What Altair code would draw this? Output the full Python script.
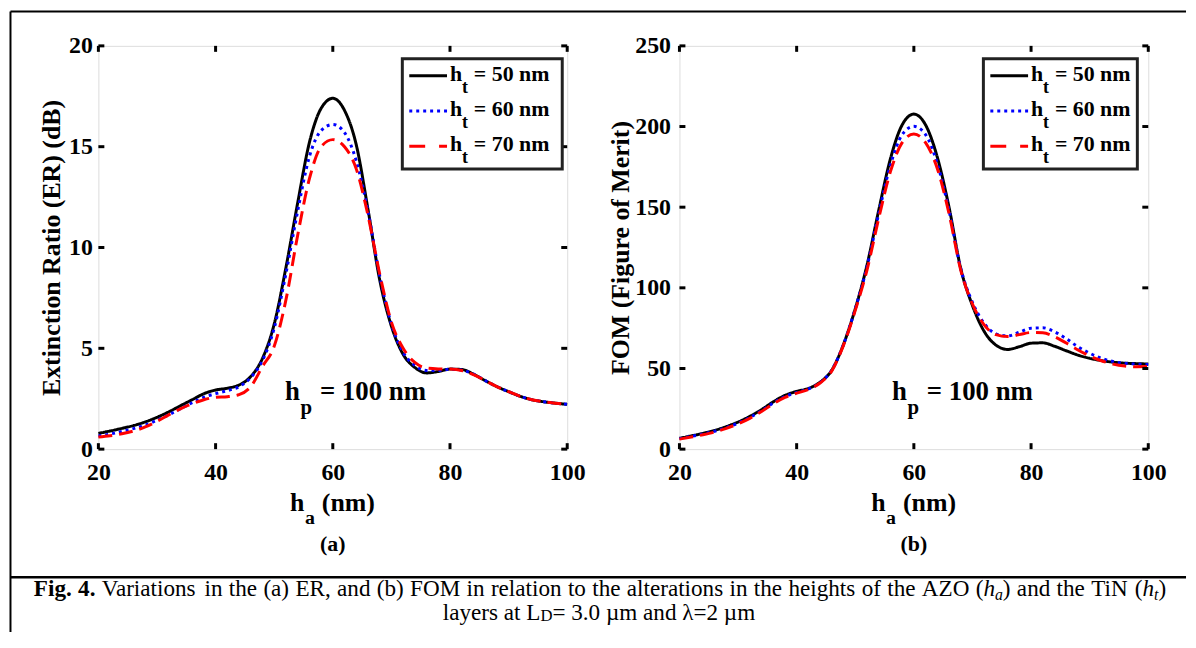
import altair as alt
import pandas as pd

# ---------------- data ----------------
ha = [20, 22, 24, 26, 28, 30, 32, 34, 36, 38, 40, 42, 44, 46, 48, 50, 52, 54, 56, 58, 60,
      62, 64, 66, 68, 70, 72, 74, 76, 78, 80, 82, 84, 86, 88, 90, 92, 94, 96, 98, 100]

er_50 = [0.78, 0.90, 1.03, 1.17, 1.35, 1.58, 1.85, 2.15, 2.45, 2.75, 2.93, 3.02, 3.18, 3.6, 4.5,
         6.2, 9.0, 12.2, 15.2, 16.9, 17.4, 16.8, 15.1, 11.9, 8.4, 6.1, 4.7, 4.05, 3.78, 3.85,
         3.97, 3.95, 3.72, 3.4, 3.1, 2.85, 2.62, 2.45, 2.35, 2.28, 2.22]
er_60 = [0.65, 0.75, 0.88, 1.02, 1.2, 1.43, 1.7, 2.0, 2.3, 2.57, 2.75, 2.9, 3.1, 3.55, 4.4,
         6.0, 8.7, 11.8, 14.5, 15.8, 16.1, 15.7, 14.3, 11.8, 8.6, 6.2, 4.8, 4.15, 3.9, 3.9,
         3.96, 3.92, 3.72, 3.4, 3.1, 2.85, 2.62, 2.45, 2.35, 2.28, 2.22]
er_70 = [0.6, 0.66, 0.76, 0.9, 1.1, 1.38, 1.7, 2.0, 2.25, 2.45, 2.57, 2.6, 2.7, 3.1, 4.1,
         5.1, 7.4, 10.6, 13.4, 15.0, 15.35, 15.0, 13.9, 11.6, 8.7, 6.3, 5.0, 4.3, 4.02, 3.98,
         3.97, 3.9, 3.7, 3.4, 3.1, 2.85, 2.62, 2.45, 2.35, 2.28, 2.22]

fom_50 = [6.7, 8.2, 9.8, 11.6, 14.0, 16.8, 20.3, 24.5, 29.3, 33.3, 35.8, 37.6, 41.5, 49, 65,
          87, 114, 148, 180, 201, 207.7, 201, 181, 150, 112, 89, 73, 64.5, 61.8, 63.5,
          65.7, 65.9, 63.8, 61, 58.3, 56.3, 54.9, 53.9, 53.3, 53, 52.8]
fom_60 = [6.5, 7.9, 9.4, 11.1, 13.4, 16.1, 19.6, 23.8, 28.6, 32.6, 35.1, 37.3, 41.3, 49, 65,
          87, 113, 146, 176, 195, 200.1, 195, 177, 148, 112, 91, 78, 71.5, 70.2, 72.5,
          75, 75.2, 72.8, 68.5, 63.5, 59.5, 56.3, 54.3, 53.2, 52.7, 52.5]
fom_70 = [6.2, 7.5, 8.9, 10.6, 12.9, 15.7, 19.1, 23.3, 28.1, 32.1, 34.7, 37, 41, 48.5, 64.5,
          86, 111, 143, 172, 190, 195.4, 190, 174, 146, 111, 90, 77, 71, 69.8, 71,
          72.3, 72.1, 69.7, 65.8, 61.5, 57.8, 54.8, 52.7, 51.5, 51.1, 51.2]

series = ["ht50", "ht60", "ht70"]
legend_texts = ["= 50 nm", "= 60 nm", "= 70 nm"]
x_ticks = [20, 40, 60, 80, 100]
er_ticks = [0, 5, 10, 15, 20]
fom_ticks = [0, 50, 100, 150, 200, 250]

caption_words_a = "Variations in the (a) ER, and (b) FOM in relation to the alterations in the heights of the AZO"
caption_words_b = "and the TiN"

# ---------------- style ----------------
FONT = "Liberation Serif"
W, H = 472, 406
COLORS = ["#000000", "#0000ff", "#ff0000"]
DASHES = [[1, 0], [3, 4], [14, 7]]
LEG_DASHES = [[1, 0], [3, 4], [16, 14]]
ONE = pd.DataFrame({"k": [0]})

# Times-compatible advance widths (1/1000 em) for laying out caption runs
REG = {" ": 250, "(": 333, ")": 333, ",": 250, ".": 250, "=": 564, "µ": 500, "λ": 549}
for c in "0123456789":
    REG[c] = 500
for c, w in zip("ABCDEFGHIJKLMNOPQRSTUVWXYZ",
                [722, 667, 667, 722, 611, 556, 722, 722, 333, 389, 722, 611, 889, 722, 722,
                 556, 722, 667, 556, 611, 722, 722, 944, 722, 722, 611]):
    REG[c] = w
for c, w in zip("abcdefghijklmnopqrstuvwxyz",
                [444, 500, 444, 500, 444, 333, 500, 500, 278, 278, 500, 278, 778, 500, 500,
                 500, 500, 333, 389, 278, 500, 500, 722, 500, 500, 444]):
    REG[c] = w
BOLD = {"F": 611, "i": 278, "g": 500, ".": 250, "4": 500}
ITAL = {"h": 500, "a": 500, "t": 278}
STY = {
    "r": dict(w="normal", s="normal", k=1.0, dy=0, tab=REG),
    "b": dict(w="bold", s="normal", k=1.0, dy=0, tab=BOLD),
    "i": dict(w="normal", s="italic", k=1.0, dy=0, tab=ITAL),
    "is": dict(w="normal", s="italic", k=0.68, dy=4, tab=ITAL),
    "sm": dict(w="normal", s="normal", k=0.72, dy=1, tab=REG),
}


def run_width(text, st, size):
    tab = STY[st]["tab"]
    return sum(tab.get(c, REG.get(c, 500)) for c in text) * size * STY[st]["k"] / 1000.0


def txt(s, x, y, size, weight="bold", style="normal", align="left", color="black"):
    return alt.Chart(ONE).mark_text(
        text=s, align=align, baseline="alphabetic", font=FONT, fontSize=size,
        fontWeight=weight, fontStyle=style, color=color,
    ).encode(x=alt.value(x), y=alt.value(y))


def runs_layers(runs, x, y, size):
    out = []
    for text, st in runs:
        p = STY[st]
        out.append(txt(text, x, y + p["dy"], size * p["k"], p["w"], p["s"]))
        x += run_width(text, st, size)
    return out


def hline(x1, x2, y, w, color="black"):
    return alt.Chart(ONE).mark_rule(strokeWidth=w, color=color).encode(
        x=alt.value(x1), x2=alt.value(x2), y=alt.value(y))


def vline(x, y1, y2, w, color="black"):
    return alt.Chart(ONE).mark_rule(strokeWidth=w, color=color).encode(
        x=alt.value(x), y=alt.value(y1), y2=alt.value(y2))


def panel(vals, yticks, ydom, ytitle, ytitle_x, ylab_pad, leg_right, tag, extra):
    rows = []
    for name, vs in zip(series, vals):
        for x, v in zip(ha, vs):
            rows.append({"ha": x, "v": v, "s": name})
    df = pd.DataFrame(rows)

    xs = alt.Scale(domain=[20, 100], nice=False, zero=False)
    ys = alt.Scale(domain=ydom, nice=False, zero=False)
    xaxis = alt.Axis(values=x_ticks, ticks=False, tickSize=0, domain=False, grid=False,
                     labelFont=FONT, labelFontSize=24, labelFontWeight="bold",
                     labelColor="black", labelPadding=12, labelFlush=False,
                     labelOverlap=False, format="d")
    yaxis = alt.Axis(values=yticks, ticks=False, tickSize=0, domain=False, grid=False,
                     labelFont=FONT, labelFontSize=24, labelFontWeight="bold",
                     labelColor="black", labelPadding=ylab_pad, labelFlush=False,
                     labelOverlap=False, format="d",
                     titleFont=FONT, titleFontSize=26, titleFontWeight="bold",
                     titleColor="black", titleX=ytitle_x, titleY=H / 2, titleAngle=270,
                     titleAlign="center", titleBaseline="middle")

    def X(f):
        return alt.X(f"{f}:Q", scale=xs, axis=xaxis, title=None)

    def Y(f):
        return alt.Y(f"{f}:Q", scale=ys, axis=yaxis, title=ytitle)

    lines = alt.Chart(df).mark_line(strokeWidth=3, interpolate="monotone").encode(
        x=X("ha"), y=Y("v"),
        color=alt.Color("s:N", scale=alt.Scale(domain=series, range=COLORS), legend=None),
        strokeDash=alt.StrokeDash("s:N", scale=alt.Scale(domain=series, range=DASHES), legend=None),
    )

    xt = pd.DataFrame({"ha": x_ticks})
    yt = pd.DataFrame({"v": yticks})
    tick_b = alt.Chart(xt).mark_rule(strokeWidth=3, color="black").encode(
        x=X("ha"), y=alt.value(H), y2=alt.value(H - 6))
    tick_t = alt.Chart(xt).mark_rule(strokeWidth=3, color="black").encode(
        x=X("ha"), y=alt.value(0), y2=alt.value(6))
    tick_l = alt.Chart(yt).mark_rule(strokeWidth=3, color="black").encode(
        y=Y("v"), x=alt.value(0), x2=alt.value(6))
    tick_r = alt.Chart(yt).mark_rule(strokeWidth=3, color="black").encode(
        y=Y("v"), x=alt.value(W), x2=alt.value(W - 6))

    layers = [lines, tick_b, tick_t, tick_l, tick_r]

    # legend box
    layers.append(alt.Chart(ONE).mark_rect(fill="white", stroke="#222222", strokeWidth=3).encode(
        x=alt.value(306), x2=alt.value(leg_right), y=alt.value(13), y2=alt.value(124)))
    for i, (lab, col, dash) in enumerate(zip(legend_texts, COLORS, LEG_DASHES)):
        ly = 30 + i * 35.5
        layers.append(alt.Chart(ONE).mark_rule(strokeWidth=3, color=col, strokeDash=dash).encode(
            x=alt.value(313), x2=alt.value(351), y=alt.value(ly)))
        layers.append(txt("h", 354, ly + 5, 22))
        layers.append(txt("t", 366, ly + 17, 18))
        layers.append(txt(lab, 378, ly + 5, 22))

    # h_p annotation
    ax = 188 if tag == "(a)" else 214
    layers.append(txt("h", ax, 357, 27))
    layers.append(txt("p", ax + 15.5, 371, 21))
    layers.append(txt("= 100 nm", ax + 35, 357, 27))

    # x-axis title with subscript
    layers.append(txt("h", 193, 468, 26))
    layers.append(txt("a", 208, 481, 20))
    layers.append(txt("(nm)", 225, 468, 26))

    # panel tag
    layers.append(txt(tag, W / 2, 509, 22, align="center"))

    layers += extra
    return alt.layer(*layers).properties(width=W, height=H)


# ---------------- figure frame and caption (drawn in panel (a) coordinates) ----------------
CS = 23.3
decor = [
    hline(-88.5, 1095, -34.5, 2),
    vline(-88.5, -34.5, 590, 2),
    hline(-88.5, 1095, 535, 2.5),
]
tokens = [[("Fig.", "b")], [("4.", "b")]]
tokens += [[(w, "r")] for w in caption_words_a.split()]
tokens += [[("(", "r"), ("h", "i"), ("a", "is"), (")", "r")]]
tokens += [[(w, "r")] for w in caption_words_b.split()]
tokens += [[("(", "r"), ("h", "i"), ("t", "is"), (")", "r")]]
tok_w = [sum(run_width(t, s, CS) for t, s in tok) for tok in tokens]
line_start, line_end = -65, 1075
gap = (line_end - line_start - sum(tok_w)) / (len(tokens) - 1)
cx = line_start
for tok, tw in zip(tokens, tok_w):
    decor += runs_layers(tok, cx, 554, CS)
    cx += tw + gap

line2 = [("layers at L", "r"), ("D", "sm"), ("= 3.0 µm and λ=2 µm", "r")]
l2w = sum(run_width(t, s, CS) for t, s in line2)
decor += runs_layers(line2, 503 - l2w / 2, 578, CS)

pa = panel([er_50, er_60, er_70], er_ticks, [0, 20], "Extinction Ratio (ER) (dB)",
           -47, 6, 467, "(a)", decor)
pb = panel([fom_50, fom_60, fom_70], fom_ticks, [0, 250], "FOM (Figure of Merit)",
           -59, 9, 461, "(b)", [])

chart = alt.hconcat(pa, pb, spacing=113, bounds="flush").properties(padding=0).configure_view(
    stroke="black", strokeWidth=3).configure(font=FONT)

chart.save("out.html", embed_options={"renderer": "svg", "actions": False})
